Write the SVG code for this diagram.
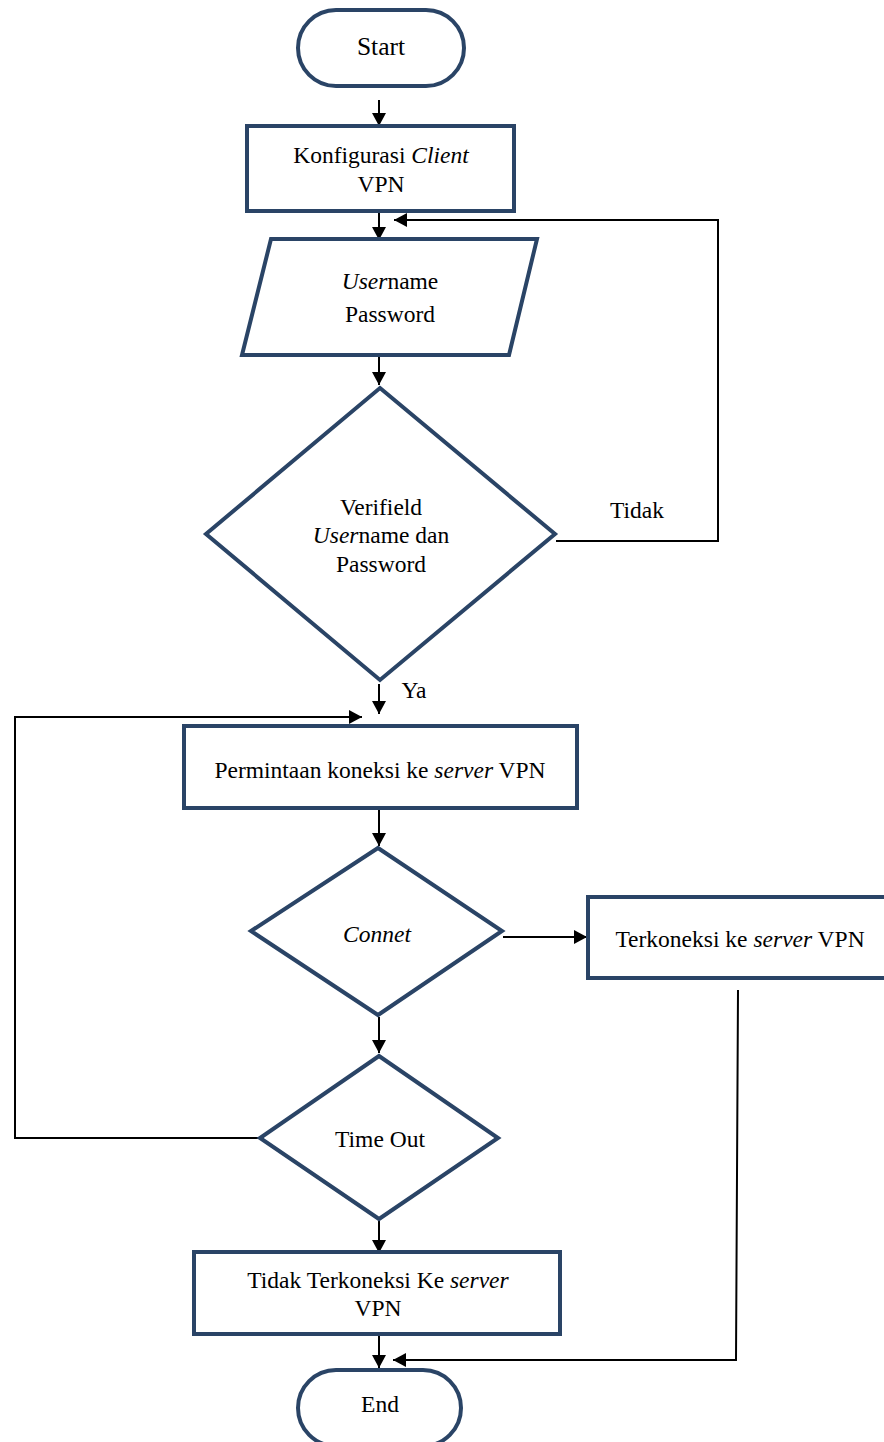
<svg xmlns="http://www.w3.org/2000/svg" width="884" height="1442" viewBox="0 0 884 1442" font-family="Liberation Serif, Times New Roman, serif">
<style>
.shape{fill:#ffffff;stroke:#2A4466;stroke-width:4;}
.t{font-size:23.5px;fill:#000;text-anchor:middle;}
.i{font-style:italic;}
.c{fill:none;stroke:#000;stroke-width:2;}
</style>
<defs>
<marker id="arr" markerUnits="userSpaceOnUse" markerWidth="14" markerHeight="14" refX="13" refY="7" orient="auto">
<path d="M0,0 L13,7 L0,14 z" fill="#000"/>
</marker>
</defs>
<rect width="884" height="1442" fill="#ffffff"/>
<g id="connectors">
<path class="c" d="M379,100 V126" marker-end="url(#arr)"/>
<path class="c" d="M379,211 V240" marker-end="url(#arr)"/>
<path class="c" d="M379,356 V385" marker-end="url(#arr)"/>
<path class="c" d="M379,684 V714" marker-end="url(#arr)"/>
<path class="c" d="M379,808 V846" marker-end="url(#arr)"/>
<path class="c" d="M379,1017 V1053" marker-end="url(#arr)"/>
<path class="c" d="M379,1221 V1253" marker-end="url(#arr)"/>
<path class="c" d="M379,1336 V1368" marker-end="url(#arr)"/>
<path class="c" d="M556,541 H718 V220 H394" marker-end="url(#arr)"/>
<path class="c" d="M259,1138 H15 V717 H362" marker-end="url(#arr)"/>
<path class="c" d="M503,937 H587" marker-end="url(#arr)"/>
<path class="c" d="M738,990 L736,1360 H393" marker-end="url(#arr)"/>
<text class="t" x="637" y="518">Tidak</text>
<text class="t" x="414" y="698">Ya</text>
</g>
<g id="start">
<rect class="shape" x="298" y="10" width="166" height="76" rx="38" ry="38"/>
<text class="t" x="381" y="55" style="font-size:25.5px">Start</text>
</g>
<g id="konfigurasi">
<rect class="shape" x="247" y="126" width="267" height="85"/>
<text class="t" x="381" y="163">Konfigurasi <tspan class="i">Client</tspan></text>
<text class="t" x="381" y="192">VPN</text>
</g>
<g id="input">
<polygon class="shape" points="271,239 537,239 509,355 242,355"/>
<text class="t" x="390" y="289"><tspan class="i">User</tspan>name</text>
<text class="t" x="390" y="322">Password</text>
</g>
<g id="verifikasi">
<polygon class="shape" points="380,388 555,534 380,680 206,534"/>
<text class="t" x="381" y="515">Verifield</text>
<text class="t" x="381" y="543"><tspan class="i">User</tspan>name dan</text>
<text class="t" x="381" y="572">Password</text>
</g>
<g id="permintaan">
<rect class="shape" x="184" y="726" width="393" height="82"/>
<text class="t" x="380" y="778">Permintaan koneksi ke <tspan class="i">server</tspan> VPN</text>
</g>
<g id="connet">
<polygon class="shape" points="378,848 502,931 378,1015 251,931"/>
<text class="t i" x="377" y="942">Connet</text>
</g>
<g id="terkoneksi">
<rect class="shape" x="588" y="897" width="300" height="81"/>
<text class="t" x="740" y="947">Terkoneksi ke <tspan class="i">server</tspan> VPN</text>
</g>
<g id="timeout">
<polygon class="shape" points="379,1056 498,1138 379,1219 260,1138"/>
<text class="t" x="380" y="1147">Time Out</text>
</g>
<g id="tidak-terkoneksi">
<rect class="shape" x="194" y="1252" width="366" height="82"/>
<text class="t" x="378" y="1288">Tidak Terkoneksi Ke <tspan class="i">server</tspan></text>
<text class="t" x="378" y="1316">VPN</text>
</g>
<g id="end">
<rect class="shape" x="298" y="1370" width="163" height="76" rx="38" ry="38"/>
<text class="t" x="380" y="1412">End</text>
</g>
</svg>
